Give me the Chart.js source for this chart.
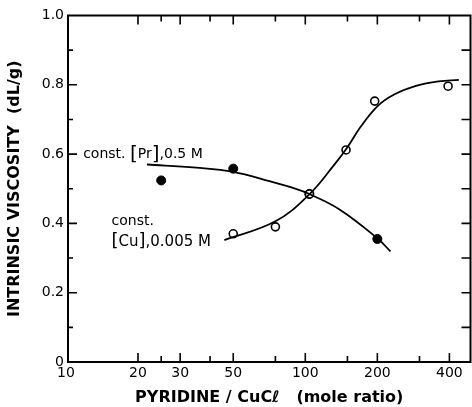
<!DOCTYPE html>
<html>
<head>
<meta charset="utf-8">
<script src="https://cdn.jsdelivr.net/npm/chart.js@4/dist/chart.umd.min.js"></script>
<style>
  html, body { margin: 0; padding: 0; background: #fff; }
</style>
</head>
<body>
<canvas id="grafica" width="472" height="407"></canvas>
<script>
// puntos medidos: const [Pr] (rellenos) y const [Cu] (abiertos)
const prX = [25, 50, 104, 200];
const prY = [0.524, 0.558, 0.485, 0.355];
const cuX = [50, 75, 104, 148, 195, 395];
const cuY = [0.370, 0.390, 0.485, 0.612, 0.753, 0.796];

// curvas trazadas a mano en la figura
const prCurvaX = [21.8, 35, 50, 71.5, 92, 104, 140, 200, 227];
const prCurvaY = [0.570, 0.561, 0.549, 0.521, 0.499, 0.485, 0.439, 0.357, 0.319];
const cuCurvaX = [45.9, 75, 104, 131, 150, 170, 200, 235, 290, 360, 438];
const cuCurvaY = [0.352, 0.406, 0.484, 0.566, 0.620, 0.678, 0.738, 0.772, 0.797, 0.810, 0.814];

// ejes
const xEtiquetas = [10, 20, 30, 50, 100, 200, 400];
const xMarcasMayores = [20, 30, 50, 100, 200, 400];
const xMarcasMenores = [25, 40, 75, 150, 300];
const yMarcasMayores = [0.2, 0.4, 0.6, 0.8];
const yMarcasMenores = [0.1, 0.3, 0.5, 0.7, 0.9];

const zip = (xs, ys) => xs.map((x, i) => ({ x, y: ys[i] }));

const FUENTE = '"DejaVu Sans", sans-serif';

const marco = {
  id: 'marco',
  afterDatasetsDraw(chart) {
    const { ctx, chartArea: a, scales: { x, y } } = chart;
    ctx.save();
    ctx.strokeStyle = '#000';
    ctx.lineWidth = 1.6;

    // marcas hacia adentro en los cuatro lados
    ctx.beginPath();
    const vx = (v, largo) => {
      const px = x.getPixelForValue(v);
      ctx.moveTo(px, a.bottom); ctx.lineTo(px, a.bottom - largo);
      ctx.moveTo(px, a.top); ctx.lineTo(px, a.top + largo);
    };
    xMarcasMayores.forEach(v => vx(v, 9));
    xMarcasMenores.forEach(v => vx(v, 6));
    const hy = (v, largo) => {
      const py = y.getPixelForValue(v);
      ctx.moveTo(a.left, py); ctx.lineTo(a.left + largo, py);
      ctx.moveTo(a.right, py); ctx.lineTo(a.right - 9, py);
    };
    yMarcasMayores.forEach(v => hy(v, 9));
    yMarcasMenores.forEach(v => hy(v, 5));
    ctx.stroke();

    ctx.lineWidth = 2;
    ctx.strokeRect(a.left, a.top, a.right - a.left, a.bottom - a.top);

    // rotulos de las curvas
    ctx.fillStyle = '#000';
    ctx.textBaseline = 'middle';
    const escribir = (partes, px, py) => {
      let cx = px;
      partes.forEach(([txt, tam]) => {
        ctx.font = tam + 'px ' + FUENTE;
        ctx.fillText(txt, cx, py);
        cx += ctx.measureText(txt).width;
      });
    };
    escribir([['const. ', 14], ['[', 20], ['Pr', 14], [']', 20], [',0.5 M', 14]],
      x.getPixelForValue(11.8), y.getPixelForValue(0.598));
    escribir([['const.', 14]], x.getPixelForValue(15.5), y.getPixelForValue(0.405));
    escribir([['[', 18], ['Cu', 15], [']', 18], [',0.005 M', 15]],
      x.getPixelForValue(15.5), y.getPixelForValue(0.347));
    ctx.restore();
  }
};

new Chart(document.getElementById('grafica'), {
  type: 'scatter',
  data: {
    datasets: [
      {
        label: 'curva Pr',
        data: zip(prCurvaX, prCurvaY),
        showLine: true,
        borderColor: '#000',
        borderWidth: 1.8,
        pointRadius: 0,
        tension: 0.4,
        order: 0
      },
      {
        label: 'curva Cu',
        data: zip(cuCurvaX, cuCurvaY),
        showLine: true,
        borderColor: '#000',
        borderWidth: 1.8,
        pointRadius: 0,
        tension: 0.4,
        order: 0
      },
      {
        label: 'const. [Cu]',
        data: zip(cuX, cuY),
        pointRadius: 4,
        pointBackgroundColor: '#fff',
        pointBorderColor: '#000',
        pointBorderWidth: 1.6,
        order: 1
      },
      {
        label: 'const. [Pr]',
        data: zip(prX, prY),
        pointRadius: 4.5,
        pointBackgroundColor: '#000',
        pointBorderColor: '#000',
        pointBorderWidth: 1,
        order: 2
      }
    ]
  },
  options: {
    responsive: false,
    animation: false,
    devicePixelRatio: 1,
    layout: { autoPadding: false, padding: { top: 15.5, right: 1.5, left: 0, bottom: 0 } },
    plugins: { legend: { display: false }, tooltip: { enabled: false } },
    scales: {
      x: {
        type: 'logarithmic',
        min: 10.2,
        max: 490,
        afterBuildTicks: s => { s.ticks = xEtiquetas.map(v => ({ value: v })); },
        afterFit: s => { s.height = 45; s.paddingLeft = 0; s.paddingRight = 0; },
        grid: { display: false, drawTicks: false },
        border: { display: false },
        ticks: {
          autoSkip: false,
          maxRotation: 0,
          padding: 3,
          color: '#000',
          font: { family: FUENTE, size: 14 },
          callback: v => String(v)
        },
        title: {
          display: true,
          text: 'PYRIDINE / CuCℓ   (mole ratio)',
          color: '#000',
          font: { family: FUENTE, size: 16, weight: 'bold' },
          padding: { top: 0, bottom: 0 }
        }
      },
      y: {
        min: 0,
        max: 1,
        afterFit: s => { s.width = 68; },
        grid: { display: false, drawTicks: false },
        border: { display: false },
        ticks: {
          stepSize: 0.1,
          padding: 4,
          color: '#000',
          font: { family: FUENTE, size: 14 },
          callback: v => {
            const d = Math.round(v * 10);
            if (d % 2 !== 0) return '';
            return d === 0 ? '0' : (d / 10).toFixed(1);
          }
        },
        title: {
          display: true,
          text: 'INTRINSIC VISCOSITY  (dL/g)',
          color: '#000',
          font: { family: FUENTE, size: 16, weight: 'bold' },
          padding: { top: 5, bottom: 0 }
        }
      }
    }
  },
  plugins: [marco]
});
</script>
</body>
</html>
